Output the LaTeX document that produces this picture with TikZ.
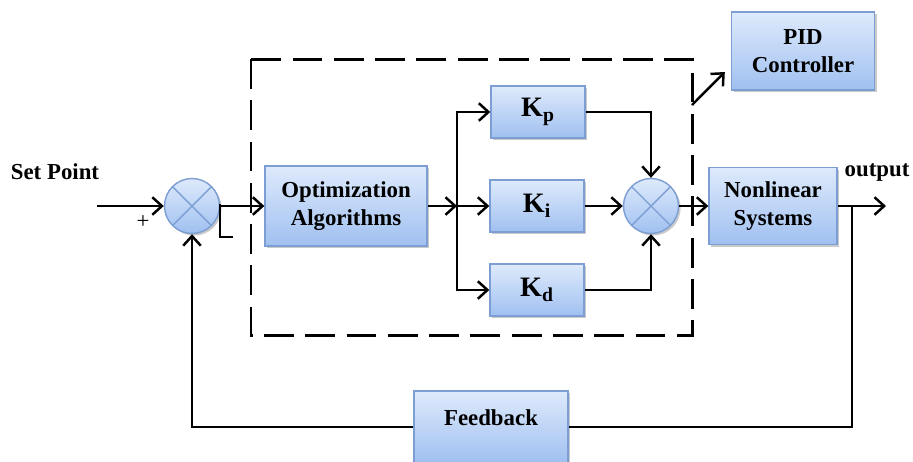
\documentclass[tikz,border=0pt]{standalone}
\usepackage{fontspec}
\setmainfont{Liberation Serif}
\usetikzlibrary{arrows.meta,shadows}
\definecolor{btop}{HTML}{DEEAFC}
\definecolor{bbot}{HTML}{A0C0F0}
\definecolor{bdraw}{HTML}{7C9ED3}
\definecolor{xcol}{HTML}{7C9ED3}
\begin{document}
\begin{tikzpicture}[x=0.02cm,y=-0.02cm,
  shd/.style={drop shadow={shadow xshift=1.2pt,shadow yshift=-1.2pt,opacity=0.35,fill=black!60}},
  blk/.style={draw=bdraw, line width=0.8pt, top color=btop, bottom color=bbot,
    font=\fontsize{13}{16}\selectfont\bfseries, align=center, inner sep=0pt, shd},
  kblk/.style={blk, minimum width=1.88cm, minimum height=1.04cm, font=\fontsize{16}{18}\selectfont\bfseries},
  sumc/.style={circle, draw=bdraw, line width=0.8pt, top color=btop, bottom color=bbot,
    minimum size=1.1cm, inner sep=0pt, shd,
    path picture={\draw[xcol,line width=0.8pt]
      (path picture bounding box.north west)--(path picture bounding box.south east)
      (path picture bounding box.north east)--(path picture bounding box.south west);}},
  conn/.style={line width=1.4pt, -{Straight Barb[length=5.5pt,width=10pt]}},
  plain/.style={line width=1.4pt},
  lbl/.style={font=\fontsize{13}{16}\selectfont\bfseries}]
\useasboundingbox (0,0) rectangle (913,461);

% dashed controller region
\draw[line width=1.7pt, dash pattern=on 17pt off 6.5pt] (251,59) rectangle (692,335);

% blocks
\node[sumc] (s1) at (192,206) {};
\node[blk, minimum width=3.24cm, minimum height=1.6cm] (opt) at (346,206) {Optimization\\Algorithms};
\node[kblk] (kp) at (538,112) {K\textsubscript{p}};
\node[kblk] (ki) at (537,206) {K\textsubscript{i}};
\node[kblk] (kd) at (537,290) {K\textsubscript{d}};
\node[sumc] (s2) at (651,206) {};
\node[blk, minimum width=2.56cm, minimum height=1.54cm] (nl) at (773,206) {Nonlinear\\Systems};
\node[blk, minimum width=2.86cm, minimum height=1.56cm] (pid) at (803,51) {PID\\Controller};
\node[blk, minimum width=3.08cm, minimum height=1.44cm] (fb) at (491,427) {\raisebox{11pt}{Feedback}};

% labels
\node[lbl] (sp) at (55,172) {Set Point};
\node[lbl] (out) at (877,172) {output};
\node[font=\fontsize{13}{16}\selectfont] (plus) at (143,222) {+};

% coordinates
\coordinate (in) at (97,206);
\coordinate (br) at (457,206);
\coordinate (tap) at (852,206);
\coordinate (outend) at (886,206);
\coordinate (dbr) at (692,105);

% minus mark
\draw[line width=1pt] (220,204) -- (220,237) -- (233,237);

% connectors
\draw[conn] (in) -- (s1.west);
\draw[conn] (s1.east) -- (opt.west);
\draw[conn] (opt.east) -- (br);
\draw[conn] (br) -- (ki.west);
\draw[conn] (br) |- (kp.west);
\draw[conn] (br) |- (kd.west);
\draw[conn] (kp.east) -| (s2.north);
\draw[conn] (ki.east) -- (s2.west);
\draw[conn] (kd.east) -| (s2.south);
\draw[conn] (s2.east) -- (nl.west);
\draw[conn] (nl.east) -- (outend);
\draw[plain] (tap) |- (fb.east);
\draw[conn] (fb.west) -| (s1.south);
\draw[conn] (dbr) -- ([xshift=-0.12cm,yshift=-0.42cm]pid.west);
\end{tikzpicture}
\end{document}
